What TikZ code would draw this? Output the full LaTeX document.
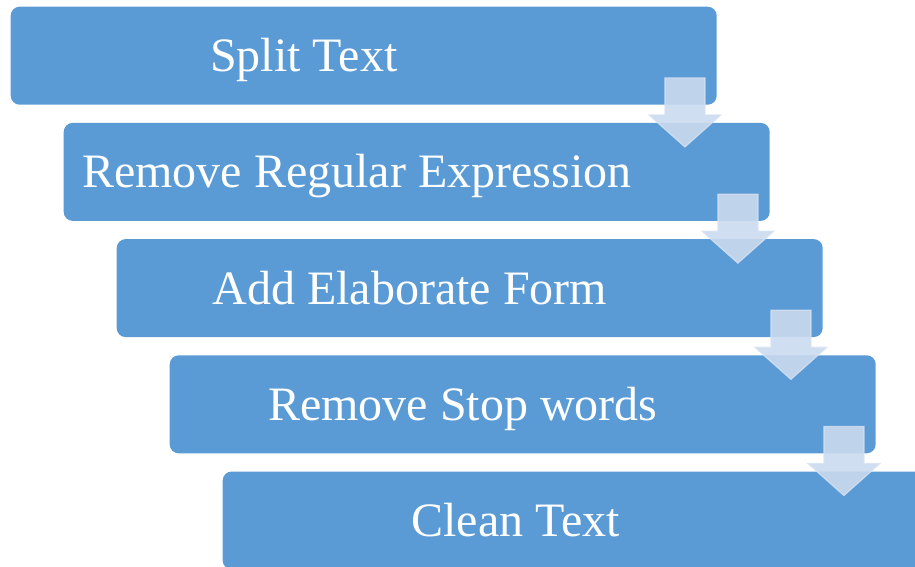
\documentclass[tikz,border=0pt]{standalone}
\usepackage{fontspec}
\setmainfont{Liberation Serif}
\usetikzlibrary{calc}
\definecolor{boxblue}{RGB}{91,155,213}
\definecolor{arrowfill}{RGB}{202,218,238}
\definecolor{arrowline}{RGB}{216,227,242}
\tikzset{
  stepbox/.style={fill=boxblue, rounded corners=9pt, minimum width=706pt, minimum height=98pt, inner sep=0pt, anchor=north west},
  steptext/.style={text=white, font=\fontsize{48}{56}\selectfont, inner sep=0pt, anchor=base},
  blockarrow/.style={fill=arrowfill, fill opacity=0.9, draw=arrowline, draw opacity=0.8, line width=1.2pt, line join=miter}
}
\newcommand\downarrowblock[1]{%
  \draw[blockarrow]
    ($(#1.south east)+(-52,-27)$) -- ($(#1.south east)+(-12,-27)$) --
    ($(#1.south east)+(-12,10)$) -- ($(#1.south east)+(4,10)$) --
    ($(#1.south east)+(-32,42)$) -- ($(#1.south east)+(-68,10)$) --
    ($(#1.south east)+(-52,10)$) -- cycle;}
\begin{document}
\begin{tikzpicture}[x=1pt,y=-1pt]
\useasboundingbox (0,0) rectangle (915,567);
\clip (0,0) rectangle (915,567);
\node[stepbox] (b1) at (10.5,6.5) {};
\node[stepbox] (b2) at (63.5,122.7) {};
\node[stepbox] (b3) at (116.5,238.9) {};
\node[stepbox] (b4) at (169.5,355.1) {};
\node[stepbox] (b5) at (222.5,471.3) {};
\node[steptext] (t1) at ($(b1.center)+(-60,16)$) {Split Text};
\node[steptext] (t2) at ($(b2.center)+(-60,16)$) {Remove Regular Expression};
\node[steptext] (t3) at ($(b3.center)+(-60,16)$) {Add Elaborate Form};
\node[steptext] (t4) at ($(b4.center)+(-60,16)$) {Remove Stop words};
\node[steptext] (t5) at ($(b5.center)+(-60,16)$) {Clean Text};
\downarrowblock{b1}
\downarrowblock{b2}
\downarrowblock{b3}
\downarrowblock{b4}
\end{tikzpicture}
\end{document}
